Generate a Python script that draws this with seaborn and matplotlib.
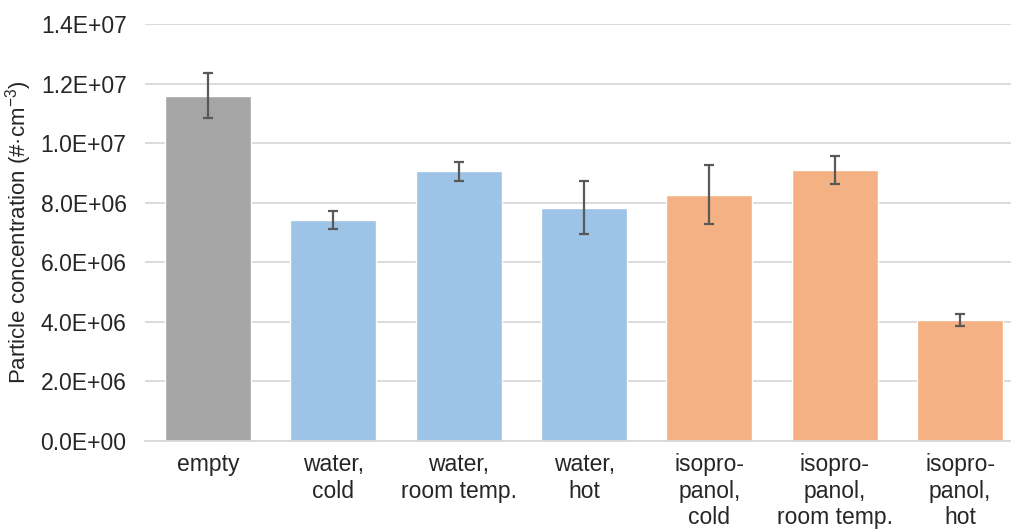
import matplotlib
matplotlib.use('Agg')
import matplotlib.pyplot as plt
import seaborn as sns
import numpy as np
import pandas as pd
from matplotlib.ticker import FuncFormatter, FixedLocator

# data
categories = ["empty", "water,\ncold", "water,\nroom temp.", "water,\nhot",
              "isopro-\npanol,\ncold", "isopro-\npanol,\nroom temp.", "isopro-\npanol,\nhot"]
concentration = [1.160e7, 7.42e6, 9.07e6, 7.84e6, 8.28e6, 9.10e6, 4.08e6]
error = [0.75e6, 0.30e6, 0.32e6, 0.90e6, 1.00e6, 0.48e6, 0.20e6]
bar_colors = ["#A5A5A5", "#9DC3E6", "#9DC3E6", "#9DC3E6", "#F4B183", "#F4B183", "#F4B183"]

df = pd.DataFrame({"cat": categories, "conc": concentration})

sns.set_style("white")
plt.rcParams['font.family'] = ['Liberation Sans', 'DejaVu Sans']
plt.rcParams['mathtext.fontset'] = 'custom'
plt.rcParams['mathtext.rm'] = 'Liberation Sans'
plt.rcParams['mathtext.it'] = 'Liberation Sans'

fig = plt.figure(figsize=(10.11, 5.30), dpi=100)
# plot area runs a bit past the right edge, as in the reference
ax = fig.add_axes([0.1437, 0.168, 0.868, 0.786])

sns.barplot(data=df, x="cat", y="conc", hue="cat", palette=bar_colors,
            legend=False, width=0.686, saturation=1, ax=ax)
ax.errorbar(np.arange(len(categories)), concentration, yerr=error, fmt='none',
            ecolor="#595959", elinewidth=1.6, capsize=3.8, capthick=1.6, zorder=3)

ax.set_ylim(0, 1.4e7)
ax.set_xlim(-0.5, len(categories) - 0.5)
ax.set_yticks(np.arange(0, 1.41e7, 2e6))
ax.yaxis.set_major_formatter(FuncFormatter(lambda v, p: f"{v:.1E}"))
ax.grid(axis='y', color="#D9D9D9", linewidth=1.3)
ax.set_axisbelow(True)

for s in ["left", "right", "top"]:
    ax.spines[s].set_visible(False)
ax.spines["bottom"].set_color("#D9D9D9")
ax.spines["bottom"].set_linewidth(1.3)

ax.tick_params(axis='y', length=0, pad=13.5, labelsize=16.5, labelcolor="#262626")
ax.tick_params(axis='x', which='major', length=0, pad=9, labelsize=16.5, labelcolor="#262626")
ax.xaxis.set_minor_locator(FixedLocator(np.arange(-0.5, len(categories), 1)))
ax.tick_params(axis='x', which='minor', length=7, width=1.3, color="#D9D9D9", direction='out')
for lab in ax.get_xticklabels():
    lab.set_linespacing(1.17)
    lab.set_verticalalignment('top')

ax.set_xlabel("")
ax.set_ylabel("Particle concentration (#\u00b7cm$^{-3}$)", fontsize=16, color="#262626", labelpad=5)

plt.savefig("out.png", dpi=100)
plt.close()
